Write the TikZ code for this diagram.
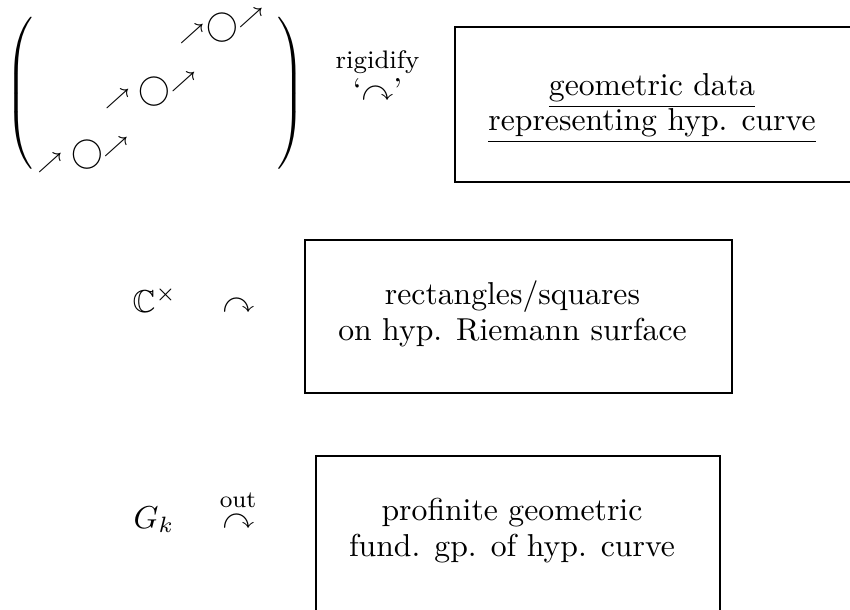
\documentclass[tikz,border=0pt]{standalone}
\usepackage{amssymb}
\begin{document}
\begin{tikzpicture}[x=0.3155pt,y=-0.3155pt,
  box/.style={draw, line width=0.8pt, inner sep=0pt},
  txt/.style={inner sep=0pt, align=center, font=\fontsize{10}{11.2}\selectfont},
  glyph/.style={inner sep=0pt, font=\fontsize{10}{12}\selectfont}]
\useasboundingbox (0,0) rectangle (850,609);
% parentheses
\node[glyph] (lp) at (21.5,93.5) {$\left(\vrule height 27pt depth 22pt width 0pt\right.$};
\node[glyph] (rp) at (289.5,93.5) {$\left.\vrule height 27pt depth 22pt width 0pt\right)$};
% circles and arrows
\node[glyph] (c1) at (87.5,155) {$\bigcirc$};
\node[glyph] (c2) at (154,91.5) {$\bigcirc$};
\node[glyph] (c3) at (222.5,28) {$\bigcirc$};
\node[glyph] (a1) at (50,162.5) {$\scriptstyle\nearrow$};
\node[glyph] (b1) at (116,146.5) {$\scriptstyle\nearrow$};
\node[glyph] (a2) at (117.5,98.5) {$\scriptstyle\nearrow$};
\node[glyph] (b2) at (183.5,82) {$\scriptstyle\nearrow$};
\node[glyph] (a3) at (192,33.5) {$\scriptstyle\nearrow$};
\node[glyph] (b3) at (251,17.5) {$\scriptstyle\nearrow$};
% rigidify
\node[inner sep=0pt, anchor=base, font=\fontsize{8}{9.6}\selectfont] (rig) at (377.5,68) {rigidify};
\node[glyph, anchor=base] (rigarr) at (377.5,100) {‘$\curvearrowright$’};
% top box
\node[box, minimum width=128.7pt, minimum height=48.9pt] (box1) at (659,104.5) {};
\node[txt] (t1) at (652,108.5) {\underline{geometric data}\\\underline{representing hyp. curve}};
% middle row
\node[glyph, anchor=base west] (C) at (132,312) {$\mathbb{C}^\times$};
\node[glyph, anchor=base] (act2) at (238.5,312) {$\curvearrowright$};
\node[box, minimum width=134.7pt, minimum height=48.3pt] (box2) at (518.5,316.5) {};
\node[txt] (t2) at (512.5,313.7) {rectangles/squares\\on hyp. Riemann surface};
% bottom row
\node[glyph, anchor=base west] (G) at (133,528) {$G_k$};
\node[inner sep=0pt, anchor=base, font=\fontsize{7.5}{9}\selectfont] (out) at (238,507) {out};
\node[glyph, anchor=base] (act3) at (238.5,528) {$\curvearrowright$};
\node[box, minimum width=127.5pt, minimum height=49.2pt] (box3) at (518,534) {};
\node[txt] (t3) at (512,530.6) {profinite geometric\\fund. gp. of hyp. curve};
\end{tikzpicture}
\end{document}
